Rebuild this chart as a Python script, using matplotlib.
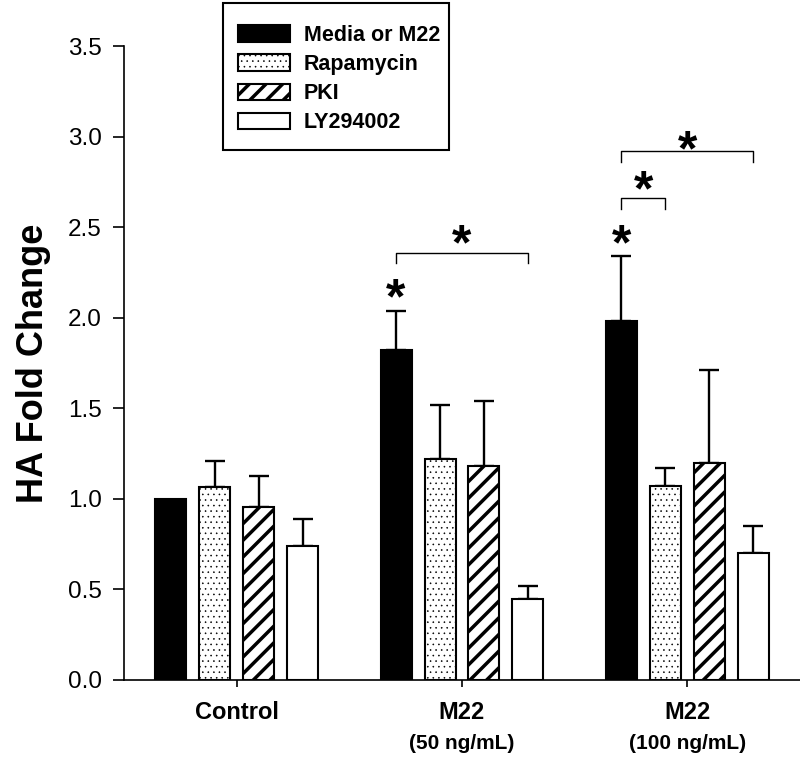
import numpy as np
import matplotlib
matplotlib.use("Agg")
import matplotlib.pyplot as plt
from matplotlib.patches import Rectangle

plt.rcParams["font.family"] = ["Liberation Sans", "DejaVu Sans"]

# data
groups = ["Control", "M22", "M22"]
group_sub = ["", "(50 ng/mL)", "(100 ng/mL)"]
treatments = ["Media or M22", "Rapamycin", "PKI", "LY294002"]
means = {
    "Media or M22": [1.00, 1.82, 1.98],
    "Rapamycin": [1.066, 1.22, 1.07],
    "PKI": [0.956, 1.18, 1.20],
    "LY294002": [0.74, 0.447, 0.70],
}
upper_err = {
    "Media or M22": [0.0, 0.22, 0.36],
    "Rapamycin": [0.144, 0.30, 0.10],
    "PKI": [0.171, 0.36, 0.51],
    "LY294002": [0.15, 0.073, 0.15],
}
# (group, bar_a, bar_b, bracket_y, star_y); bar_b None means a single star
sig_marks = [
    (1, 0, None, None, 2.18),
    (1, 0, 3, 2.36, 2.48),
    (2, 0, None, None, 2.48),
    (2, 0, 1, 2.66, 2.78),
    (2, 0, 3, 2.92, 3.00),
]

styles = {
    "Media or M22": dict(color="black", hatch=None, hlw=1.0),
    "Rapamycin": dict(color="white", hatch="...", hlw=0.4),
    "PKI": dict(color="white", hatch="//", hlw=2.5),
    "LY294002": dict(color="white", hatch=None, hlw=1.0),
}

fig = plt.figure(figsize=(8, 7.6), dpi=100)
ax = fig.add_axes([0.155, 0.1053, 0.845, 0.834])

x = np.arange(len(groups))
width = 0.1375
step = 0.195
offsets = (np.arange(4) - 1.5) * step

for i, name in enumerate(treatments):
    pos = x + offsets[i]
    with plt.rc_context({"hatch.linewidth": styles[name]["hlw"]}):
        ax.bar(pos, means[name], width, color=styles[name]["color"], edgecolor="black",
               linewidth=1.5, hatch=styles[name]["hatch"], label=name, zorder=2)
    err = np.array(upper_err[name])
    show = err > 0
    ax.errorbar(pos[show], np.array(means[name])[show],
                yerr=[np.zeros(show.sum()), err[show]], fmt="none", ecolor="black",
                elinewidth=1.7, capsize=7, capthick=1.7, zorder=1)

star_fs = 36


def star(xs, ys):
    ax.annotate("*", (xs, ys), xytext=(0, -0.57 * star_fs), textcoords="offset points",
                ha="center", va="baseline", fontsize=star_fs, fontweight="bold")


for g, a, b, by, sy in sig_marks:
    xa = x[g] + offsets[a]
    if b is None:
        star(xa, sy)
    else:
        xb = x[g] + offsets[b]
        ax.plot([xa, xa, xb, xb], [by - 0.06, by, by, by - 0.06], color="black",
                linewidth=1.0, zorder=3)
        star((xa + xb) / 2, sy)

ax.set_xlim(-0.5, 2.5)
ax.set_ylim(0, 3.5)
ax.set_yticks(np.arange(0, 3.51, 0.5))
ax.set_yticklabels([f"{v:.1f}" for v in np.arange(0, 3.51, 0.5)], fontsize=17.5)
ax.set_xticks(x)
ax.set_xticklabels(groups, fontsize=17, fontweight="bold")
for xi, sub in zip(x, group_sub):
    ax.annotate(sub, (xi, 0), xytext=(0, -39), textcoords="offset points",
                ha="center", va="top", fontsize=15, fontweight="bold")
ax.tick_params(axis="y", length=8, width=1.2, pad=8)
ax.tick_params(axis="x", length=5, width=1.2, pad=10)
ax.set_ylabel("HA Fold Change", fontsize=26, fontweight="bold", labelpad=12)

for side in ["top", "right"]:
    ax.spines[side].set_visible(False)
for side in ["left", "bottom"]:
    ax.spines[side].set_linewidth(1.2)

# legend without its own frame, boxed by a rectangle in figure pixels
leg = fig.legend(loc="upper left", bbox_to_anchor=(225 / 800, 1 - 12 / 760),
                 prop={"family": "Liberation Sans", "weight": "bold", "size": 15.5},
                 frameon=False, borderaxespad=0, borderpad=0.6,
                 handlelength=2.4, handleheight=0.8, handletextpad=0.65,
                 labelspacing=0.38)
for h, name in zip(leg.legend_handles, treatments):
    if hasattr(h, "set_hatch_linewidth"):
        h.set_hatch_linewidth(styles[name]["hlw"])
fig.patches.append(Rectangle((223 / 800, 1 - 150 / 760), 226 / 800, 147 / 760,
                             transform=fig.transFigure, fill=False,
                             edgecolor="black", linewidth=1.5))

fig.savefig("out.png", dpi=100)
